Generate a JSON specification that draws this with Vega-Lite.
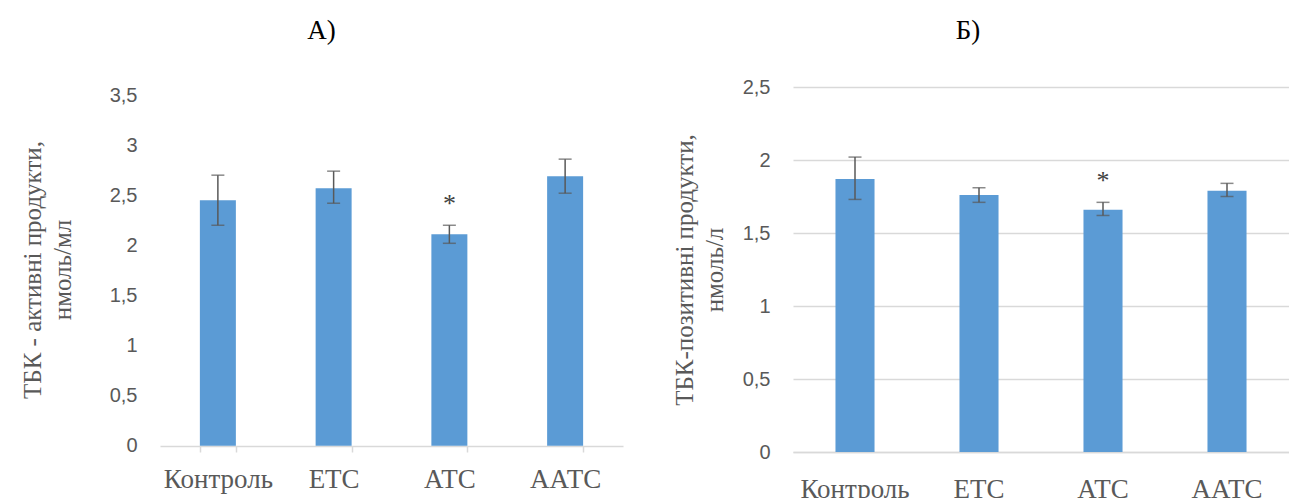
{
  "$schema": "https://vega.github.io/schema/vega-lite/v6.json",
  "padding": {"left": 20, "top": 17, "right": 0, "bottom": 0},
  "background": "white",
  "config": {
    "view": {"stroke": null},
    "concat": {"spacing": 170},
    "title": {"font": "Liberation Serif", "fontSize": 27, "fontWeight": "normal", "color": "#000000", "baseline": "alphabetic", "frame": "group"}
  },
  "bounds": "flush",
  "datasets": {
    "a": [
      {"group": "Контроль", "mean": 2.45, "lo": 2.20, "hi": 2.70, "sig": ""},
      {"group": "ЕТС", "mean": 2.57, "lo": 2.42, "hi": 2.74, "sig": ""},
      {"group": "АТС", "mean": 2.11, "lo": 2.02, "hi": 2.20, "sig": "*"},
      {"group": "ААТС", "mean": 2.69, "lo": 2.52, "hi": 2.86, "sig": ""}
    ],
    "b": [
      {"group": "Контроль", "mean": 1.87, "lo": 1.73, "hi": 2.02, "sig": ""},
      {"group": "ЕТС", "mean": 1.76, "lo": 1.71, "hi": 1.81, "sig": ""},
      {"group": "АТС", "mean": 1.66, "lo": 1.62, "hi": 1.71, "sig": "*"},
      {"group": "ААТС", "mean": 1.79, "lo": 1.75, "hi": 1.84, "sig": ""}
    ]
  },
  "hconcat": [
    {
      "width": 463,
      "height": 365,
      "title": {"text": "А)", "dx": -70, "offset": 40},
      "data": {"name": "a"},
      "encoding": {
        "x": {
          "field": "group", "type": "nominal", "sort": null,
          "scale": {"paddingInner": 0.689, "paddingOuter": 0.3445},
          "axis": {
            "title": null, "labelAngle": 0, "labelFont": "Liberation Serif", "labelFontSize": 27,
            "labelColor": "#595959", "domainColor": "#d9d9d9", "domainWidth": 1.5,
            "tickColor": "#d9d9d9", "tickWidth": 1.5, "tickSize": 6, "tickBand": "extent",
            "labelPadding": 14, "offset": -6
          }
        }
      },
      "layer": [
        {
          "mark": {"type": "bar", "color": "#5B9BD5"},
          "encoding": {
            "y": {
              "field": "mean", "type": "quantitative",
              "scale": {"domain": [-0.063, 3.58], "nice": false, "zero": false},
              "axis": {
                "values": [0, 0.5, 1, 1.5, 2, 2.5, 3, 3.5],
                "format": ".1~f",
                "labelExpr": "replace(datum.label, '.', ',')",
                "grid": false, "domain": false, "ticks": false, "tickSize": 0,
                "labelFont": "Liberation Sans", "labelFontSize": 20, "labelColor": "#595959", "labelPadding": 23,
                "title": ["ТБК - активні продукти,", "нмоль/мл"],
                "titleFont": "Liberation Serif", "titleFontSize": 25, "titleFontWeight": "normal",
                "titleColor": "#595959", "titleLineHeight": 30, "titlePadding": 34
              }
            }
          }
        },
        {
          "mark": {"type": "rule", "color": "#595959", "strokeWidth": 1.5},
          "encoding": {"y": {"field": "lo", "type": "quantitative"}, "y2": {"field": "hi"}}
        },
        {
          "mark": {"type": "tick", "color": "#595959", "thickness": 1.5, "size": 13},
          "encoding": {"y": {"field": "lo", "type": "quantitative"}}
        },
        {
          "mark": {"type": "tick", "color": "#595959", "thickness": 1.5, "size": 13},
          "encoding": {"y": {"field": "hi", "type": "quantitative"}}
        },
        {
          "mark": {"type": "text", "font": "Liberation Serif", "fontSize": 26, "color": "#404040", "baseline": "alphabetic", "dy": -13},
          "encoding": {"y": {"field": "hi", "type": "quantitative"}, "text": {"field": "sig"}}
        }
      ]
    },
    {
      "width": 496,
      "height": 365,
      "title": {"text": "Б)", "dx": -73, "offset": 32},
      "data": {"name": "b"},
      "encoding": {
        "x": {
          "field": "group", "type": "nominal", "sort": null,
          "scale": {"paddingInner": 0.685, "paddingOuter": 0.3425},
          "axis": {
            "title": null, "labelAngle": 0, "labelFont": "Liberation Serif", "labelFontSize": 27,
            "labelColor": "#595959", "domainColor": "#d9d9d9", "domainWidth": 1.5,
            "ticks": false, "tickSize": 0, "labelPadding": 24
          }
        }
      },
      "layer": [
        {
          "mark": {"type": "bar", "color": "#5B9BD5"},
          "encoding": {
            "y": {
              "field": "mean", "type": "quantitative",
              "scale": {"domain": [0, 2.5], "nice": false},
              "axis": {
                "values": [0, 0.5, 1, 1.5, 2, 2.5],
                "format": ".1~f",
                "labelExpr": "replace(datum.label, '.', ',')",
                "grid": true, "gridColor": "#d9d9d9", "gridWidth": 1.5,
                "domain": false, "ticks": false, "tickSize": 0,
                "labelFont": "Liberation Sans", "labelFontSize": 20, "labelColor": "#595959", "labelPadding": 23,
                "title": ["ТБК-позитивні продукти,", "нмоль/л"],
                "titleFont": "Liberation Serif", "titleFontSize": 25, "titleFontWeight": "normal",
                "titleColor": "#595959", "titleLineHeight": 30, "titlePadding": 15
              }
            }
          }
        },
        {
          "mark": {"type": "rule", "color": "#595959", "strokeWidth": 1.5},
          "encoding": {"y": {"field": "lo", "type": "quantitative"}, "y2": {"field": "hi"}}
        },
        {
          "mark": {"type": "tick", "color": "#595959", "thickness": 1.5, "size": 13},
          "encoding": {"y": {"field": "lo", "type": "quantitative"}}
        },
        {
          "mark": {"type": "tick", "color": "#595959", "thickness": 1.5, "size": 13},
          "encoding": {"y": {"field": "hi", "type": "quantitative"}}
        },
        {
          "mark": {"type": "text", "font": "Liberation Serif", "fontSize": 26, "color": "#404040", "baseline": "alphabetic", "dy": -13},
          "encoding": {"y": {"field": "hi", "type": "quantitative"}, "text": {"field": "sig"}}
        }
      ]
    }
  ]
}
